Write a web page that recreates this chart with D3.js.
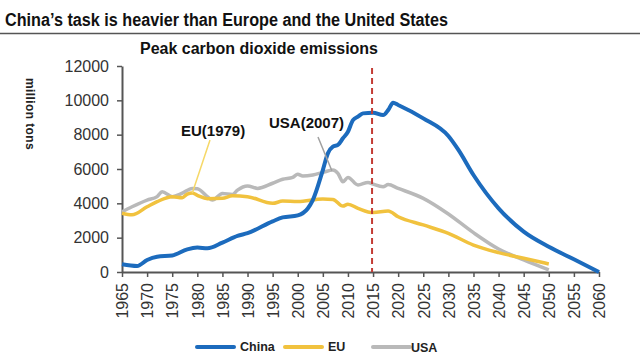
<!DOCTYPE html>
<html>
<head>
<meta charset="utf-8">
<script src="https://cdn.jsdelivr.net/npm/d3@7"></script>
<style>
  body { margin: 0; background: #fff; }
  svg { display: block; font-family: Arial, "Liberation Sans", sans-serif; }
</style>
</head>
<body>
<svg id="chart" width="640" height="364"></svg>
<script>
/* data, million tons CO2 */
var chinaYears  = [1965, 1968, 1970, 1972, 1975, 1978, 1980, 1982, 1985, 1988, 1990, 1995, 1997, 2000, 2002, 2003,
                   2005, 2006, 2007, 2008, 2009, 2010, 2011, 2012, 2013, 2015, 2017, 2018, 2019, 2020,
                   2025, 2030, 2032, 2035, 2040, 2045, 2050, 2055, 2060];
var chinaValues = [450, 350, 700, 890, 960, 1320, 1420, 1380, 1710, 2100, 2260, 2950, 3180, 3300, 3700, 4190,
                   5940, 6910, 7300, 7400, 7790, 8170, 8850, 9050, 9240, 9280, 9140, 9430, 9860, 9730,
                   8950, 7920, 7110, 5650, 3710, 2350, 1470, 740, 0];

var euYears  = [1965, 1967, 1970, 1972, 1975, 1977, 1978, 1979, 1980, 1982, 1985, 1987, 1990, 1995, 1997,
                2000, 2005, 2007, 2009, 2010, 2012, 2015, 2018, 2020, 2025, 2030, 2035, 2040, 2045, 2050];
var euValues = [3420, 3330, 3800, 4100, 4390, 4330, 4540, 4600, 4470, 4270, 4290, 4440, 4390, 4000, 4130,
                4100, 4250, 4230, 3840, 3950, 3710, 3460, 3550, 3220, 2740, 2250, 1570, 1130, 800, 470];

var usaYears  = [1965, 1967, 1970, 1972, 1973, 1975, 1977, 1979, 1980, 1982, 1983, 1985, 1987, 1988,
                 1990, 1992, 1995, 1997, 1999, 2000, 2001, 2003, 2005, 2007, 2008, 2009, 2010, 2012, 2014,
                 2015, 2017, 2018, 2020, 2025, 2030, 2035, 2040, 2045, 2050];
var usaValues = [3510, 3800, 4190, 4390, 4680, 4390, 4590, 4870, 4850, 4390, 4190, 4580, 4520, 4770,
                 5010, 4870, 5170, 5400, 5510, 5690, 5590, 5650, 5800, 5940, 5750, 5260, 5510, 5070, 5220,
                 5120, 4970, 5090, 4870, 4290, 3380, 2290, 1340, 700, 120];

var yTicks = [0, 2000, 4000, 6000, 8000, 10000, 12000];
var xTicks = d3.range(1965, 2061, 5);
var nowYear = 2015;

var seriesNames  = ["China", "EU", "USA"];
var seriesColors = ["#1c6bbd", "#f1c23e", "#b9b9b9"];

/*******************************/
/*          Layout             */
/*******************************/

var svg = d3.select("#chart");

var x = d3.scaleLinear().domain([1965, 2060]).range([122, 599]);
var y = d3.scaleLinear().domain([0, 12000]).range([272, 66]);

// headline and rule
svg.append("text")
  .attr("x", 5).attr("y", 26)
  .attr("font-size", 18).attr("font-weight", "bold")
  .attr("textLength", 443).attr("lengthAdjust", "spacingAndGlyphs")
  .attr("fill", "#111")
  .text("China\u2019s task is heavier than Europe and the United States");

svg.append("line")
  .attr("x1", 0).attr("x2", 640).attr("y1", 33.5).attr("y2", 33.5)
  .attr("stroke", "#555").attr("stroke-width", 1.5);

svg.append("text")
  .attr("x", 259).attr("y", 54)
  .attr("text-anchor", "middle")
  .attr("font-size", 16).attr("font-weight", "bold")
  .attr("textLength", 238).attr("lengthAdjust", "spacingAndGlyphs")
  .attr("fill", "#111")
  .text("Peak carbon dioxide emissions");

svg.append("text")
  .attr("transform", "translate(26,78) rotate(90)")
  .attr("font-size", 12).attr("font-weight", "bold")
  .attr("letter-spacing", 0.4)
  .attr("fill", "#222")
  .text("million tons");

/*******************************/
/*           Axes              */
/*******************************/

var yAxis = svg.append("g")
  .attr("transform", "translate(122,0)")
  .call(d3.axisLeft(y).tickValues(yTicks).tickSize(5).tickSizeOuter(0).tickPadding(8).tickFormat(d3.format("d")));

var xAxis = svg.append("g")
  .attr("transform", "translate(0,272)")
  .call(d3.axisBottom(x).tickValues(xTicks).tickSize(5).tickSizeOuter(0).tickFormat(d3.format("d")));

[yAxis, xAxis].forEach(function(a) {
  a.select(".domain").attr("stroke", "#555").attr("stroke-width", 2);
  a.selectAll(".tick line").attr("stroke", "#555").attr("stroke-width", 1.5);
  a.selectAll(".tick text").attr("font-size", 16).attr("fill", "#333")
    .attr("font-family", "Arial, 'Liberation Sans', sans-serif");
});

xAxis.selectAll(".tick text")
  .attr("text-anchor", "end")
  .attr("transform", "rotate(-90)")
  .attr("x", -11).attr("y", 0).attr("dy", "0.36em");

/*******************************/
/*           Lines             */
/*******************************/

var line = d3.line()
  .x(function(d) { return x(d[0]); })
  .y(function(d) { return y(d[1]); })
  .curve(d3.curveMonotoneX);

var seriesData = [
  d3.zip(chinaYears, chinaValues),
  d3.zip(euYears, euValues),
  d3.zip(usaYears, usaValues)
];

// draw gray first, then yellow, blue on top
[2, 1, 0].forEach(function(i) {
  svg.append("path")
    .datum(seriesData[i])
    .attr("fill", "none")
    .attr("stroke", seriesColors[i])
    .attr("stroke-width", i == 0 ? 4 : 3.5)
    .attr("stroke-linejoin", "round")
    .attr("d", line);
});

// today marker
svg.append("line")
  .attr("x1", x(nowYear) - 1).attr("x2", x(nowYear) - 1)
  .attr("y1", 68).attr("y2", y(0))
  .attr("stroke", "#c43c35").attr("stroke-width", 2)
  .attr("stroke-dasharray", "6,4");

/*******************************/
/*        Annotations          */
/*******************************/

svg.append("line")
  .attr("x1", 210).attr("y1", 140).attr("x2", x(1979)).attr("y2", y(4600))
  .attr("stroke", "#f6d867").attr("stroke-width", 1.5);
svg.append("text")
  .attr("x", 181).attr("y", 136)
  .attr("font-size", 15).attr("font-weight", "bold").attr("fill", "#111")
  .text("EU(1979)");

svg.append("line")
  .attr("x1", 318).attr("y1", 137).attr("x2", x(2007) - 1).attr("y2", y(5900))
  .attr("stroke", "#a0a0a0").attr("stroke-width", 1.5);
svg.append("text")
  .attr("x", 269).attr("y", 128)
  .attr("font-size", 15).attr("font-weight", "bold").attr("fill", "#111")
  .text("USA(2007)");

/*******************************/
/*          Legend             */
/*******************************/

var legendX = [197, 285, 373];
var legend = svg.selectAll(".legend")
  .data(seriesNames)
  .enter()
  .append("g")
  .attr("class", "legend")
  .attr("transform", function(d, i) { return "translate(" + legendX[i] + ",347)"; });

legend.append("line")
  .attr("x1", 0).attr("x2", 37)
  .attr("stroke", function(d, i) { return seriesColors[i]; })
  .attr("stroke-width", 4)
  .attr("stroke-linecap", "round");

legend.append("text")
  .attr("x", function(d, i) { return i == 2 ? 38 : 43; })
  .attr("y", function(d, i) { return i == 2 ? 5 : 4; })
  .attr("font-size", 12.5).attr("font-weight", "bold").attr("fill", "#222")
  .text(function(d) { return d; });
</script>
</body>
</html>
